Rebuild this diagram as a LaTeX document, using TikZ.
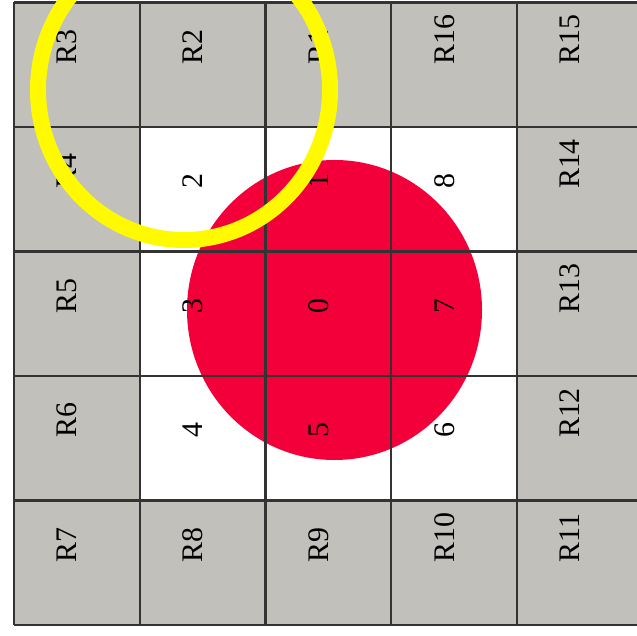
\documentclass[tikz,border=0pt]{standalone}
\usepackage{fontspec}
\setmainfont{Liberation Serif}
\usepackage{tikz}
\definecolor{cellgray}{RGB}{193,192,187}
\definecolor{spotred}{RGB}{243,0,58}
\definecolor{ringyellow}{RGB}{255,250,0}

\begin{document}
\begin{tikzpicture}[
        x=2.515cm, y=2.49cm,
        cell/.style = {draw=black!80, line width=1.4pt},
        lbl/.style = {rotate=90, anchor=base west, inner sep=0pt, font=\fontsize{17pt}{20pt}\selectfont},
        ring/.style = {draw=ringyellow, line width=0.32cm},
    ]
        \clip (-0.28cm,-0.20cm) rectangle (12.46cm,12.50cm);
        \fill[white] (-0.28cm,-0.20cm) rectangle (12.46cm,12.50cm);
        % outer cells grey, inner 3x3 white
        \fill[cellgray] (0,0) rectangle (5,5);
        \fill[white] (1,1) rectangle (4,4);
        \fill[spotred] (6.41cm,6.30cm) ellipse [x radius=2.95cm, y radius=3.0cm];
        \foreach \i in {0,...,5} {
            \draw[cell] (\i,0) -- (\i,5);
            \draw[cell] (0,\i) -- (5,\i);
        }
        \foreach \t [count=\c from 0] in {R3,R2,R1,R16,R15}
            \node[lbl] (t\t) at (\c+0.5,4.5) {\t};
        \foreach \t [count=\c from 0] in {R4,2,1,8,R14}
            \node[lbl] (t\t) at (\c+0.5,3.5) {\t};
        \foreach \t [count=\c from 0] in {R5,3,0,7,R13}
            \node[lbl] (t\t) at (\c+0.5,2.5) {\t};
        \foreach \t [count=\c from 0] in {R6,4,5,6,R12}
            \node[lbl] (t\t) at (\c+0.5,1.5) {\t};
        \foreach \t [count=\c from 0] in {R7,R8,R9,R10,R11}
            \node[lbl] (t\t) at (\c+0.5,0.5) {\t};
        \draw[ring] (3.40cm,10.70cm) ellipse [x radius=2.92cm, y radius=3.0cm];
    \end{tikzpicture}
\end{document}
